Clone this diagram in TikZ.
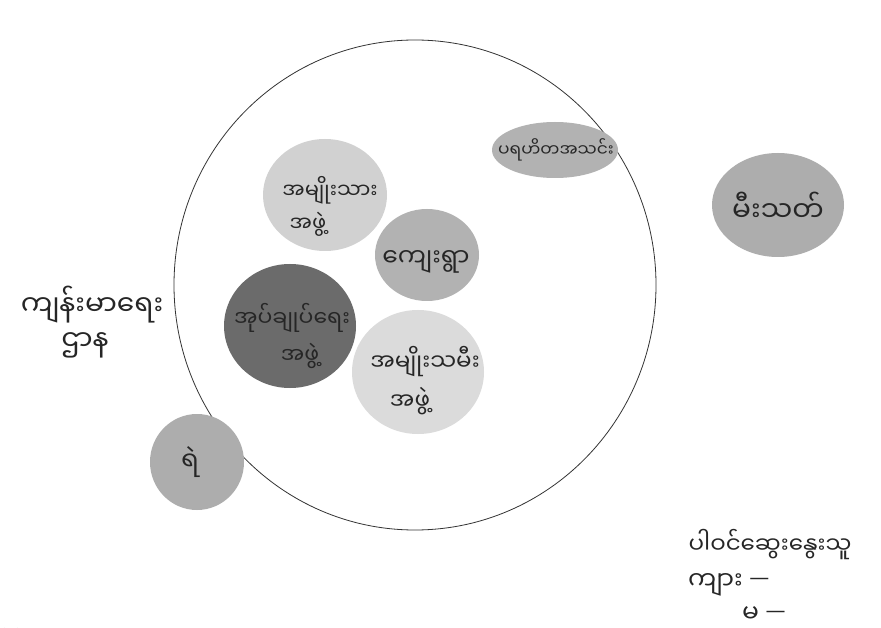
\documentclass[tikz,border=0pt]{standalone}
\usepackage{fontspec}
\usetikzlibrary{shapes.geometric}
\newfontfamily\my[Script=Myanmar]{Noto Sans Myanmar UI}
\newfontfamily\dv{DejaVu Sans}
\newcommand\mydash{\raisebox{5pt}{\dv\fontsize{20}{20}\selectfont —}}
\begin{document}
\begin{tikzpicture}[x=1pt,y=-1pt,
  lbl/.style={font=\my\fontsize{#1}{#1}\selectfont, inner sep=0pt, align=center, text=black!85},
  lbl/.default=22]
\useasboundingbox (0,0) rectangle (881,628);
\fill[white] (0,0) rectangle (881,628);
% big circle
\node[draw=black!80, line width=0.8pt, ellipse, minimum width=482, minimum height=490, inner sep=0pt] (big) at (415,285) {};
% blobs
\fill[black!30] (555,150) ellipse [x radius=63, y radius=28];
\fill[black!32] (778,205) ellipse [x radius=66, y radius=52];
\fill[black!18] (325,195) ellipse [x radius=62, y radius=56];
\fill[black!30] (427,255) ellipse [x radius=52, y radius=46];
\fill[black!14] (418,372) ellipse [x radius=66, y radius=62];
\fill[black!58] (290,326) ellipse [x radius=66, y radius=62];
\fill[black!32] (197,462) ellipse [x radius=47, y radius=48];
% labels
\node[lbl=17] (parahita) at (556,150) {ပရဟိတအသင်း};
\node[lbl=28] (meethat) at (778,207) {မီးသတ်};
\node[lbl=21] (men1) at (330,190) {အမျိုးသား};
\node[lbl=21] (men2) at (308,224) {အဖွဲ့};
\node[lbl=25] (village) at (426,262) {ကျေးရွာ};
\node[lbl=22] (admin1) at (292,318) {အုပ်ချုပ်ရေး};
\node[lbl=22] (admin2) at (300,356) {အဖွဲ့};
\node[lbl=23] (women1) at (425,362) {အမျိုးသမီး};
\node[lbl=23] (women2) at (410,401) {အဖွဲ့};
\node[lbl=28] (health1) at (92,305) {ကျန်းမာရေး};
\node[lbl=28] (health2) at (85,345) {ဌာန};
\node[lbl=26] (police) at (190,462) {ရဲ};
\node[lbl=23] (part) at (770,545) {ပါဝင်ဆွေးနွေးသူ};
\node[lbl=25, anchor=west] (male) at (688,585) {ကျား \mydash};
\node[lbl=25, anchor=west] (female) at (742,614) {မ \mydash};
% edge fragment
\draw[black!60, line width=0.8pt] (4,628) arc[start angle=180, end angle=0, radius=7];
\end{tikzpicture}
\end{document}
